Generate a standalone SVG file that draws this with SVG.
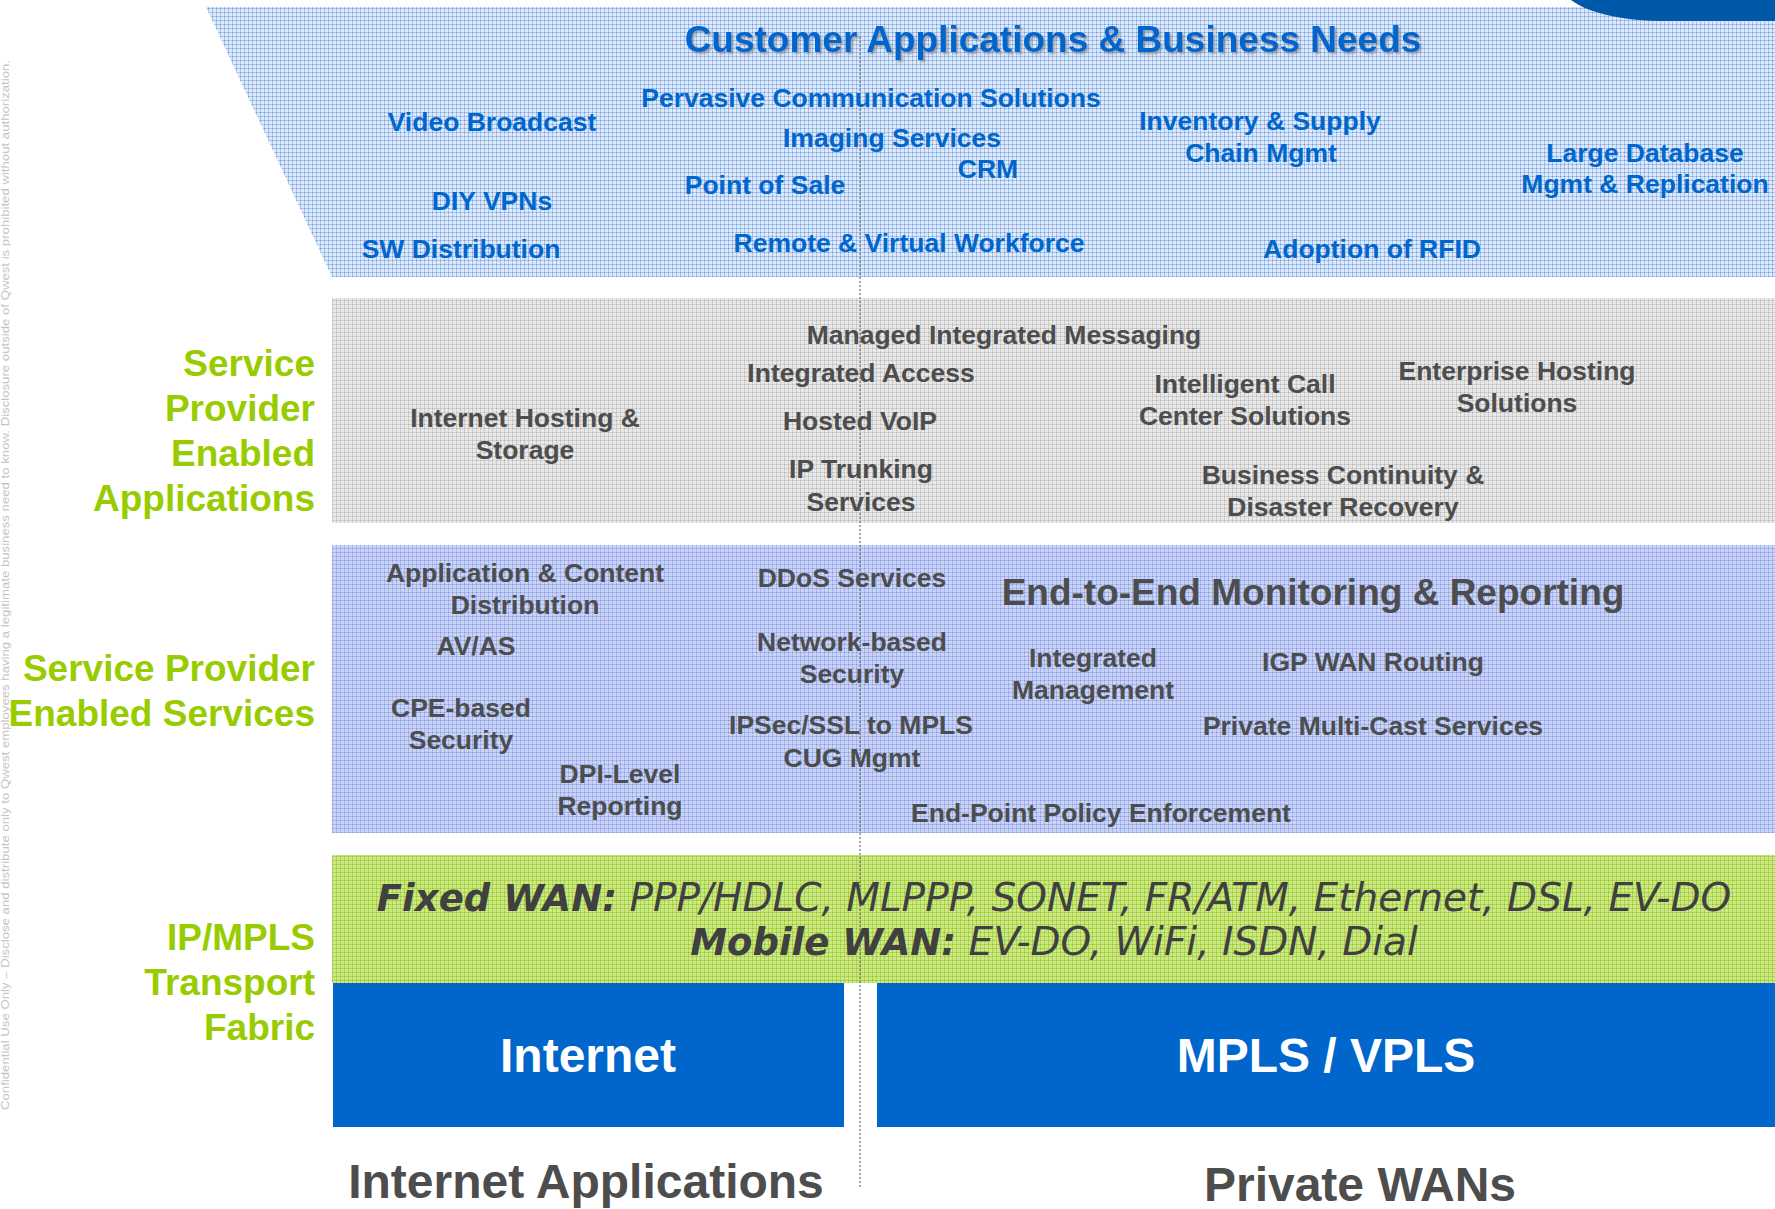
<svg xmlns="http://www.w3.org/2000/svg" width="1775" height="1209" viewBox="0 0 1775 1209">
<defs>
<pattern id="pTop" width="4" height="4" patternUnits="userSpaceOnUse">
<rect width="4" height="4" fill="#DDE9F8"/><rect width="4" height="1" fill="#A7C5EE"/><rect width="1" height="4" fill="#A7C5EE"/><rect width="1" height="1" fill="#6C9BDD"/>
</pattern>
<pattern id="pGray" width="4" height="4" patternUnits="userSpaceOnUse">
<rect width="4" height="4" fill="#E8E8E8"/><rect width="4" height="1" fill="#D0D0D0"/><rect width="1" height="4" fill="#D0D0D0"/><rect width="1" height="1" fill="#B5B5B5"/>
</pattern>
<pattern id="pSvc" width="4" height="4" patternUnits="userSpaceOnUse">
<rect width="4" height="4" fill="#C8D3F6"/><rect width="4" height="1" fill="#A9B9F0"/><rect width="1" height="4" fill="#A9B9F0"/><rect width="1" height="1" fill="#8297E4"/>
</pattern>
<pattern id="pGreen" width="4" height="4" patternUnits="userSpaceOnUse">
<rect width="4" height="4" fill="#CBE68C"/><rect width="4" height="1" fill="#AED84A"/><rect width="1" height="4" fill="#AED84A"/><rect width="1" height="1" fill="#92C81E"/>
</pattern>
<filter id="shadow" x="-5%" y="-30%" width="110%" height="160%">
<feDropShadow dx="2" dy="2" stdDeviation="1" flood-color="#777" flood-opacity="0.6"/>
</filter>
</defs>
<style>
text{font-family:"Liberation Sans",Arial,sans-serif;font-weight:bold;text-anchor:middle}
.b{fill:#0066CC;font-size:26.5px}
.g{fill:#4D4D4D;font-size:26.5px}
.lbl{fill:#99CC00;font-size:37px;text-anchor:end}
.wan{font-family:"DejaVu Sans",Verdana,sans-serif;font-style:italic;font-weight:normal;fill:#404040;font-size:39px}
.wan .k{font-weight:bold;font-size:37px}
.box{fill:#FFFFFF;font-size:48px}
.foot{fill:#4D4D4D;font-size:48px}
</style>
<rect width="1775" height="1209" fill="#FFFFFF"/>

<g id="note">
<text transform="translate(9,1110) rotate(-90)" style="font-weight:normal;text-anchor:start;fill:#C4C4C4;font-size:10.5px" textLength="1050" lengthAdjust="spacingAndGlyphs">Confidential Use Only – Disclose and distribute only to Qwest employees having a legitimate business need to know. Disclosure outside of Qwest is prohibited without authorization.</text>
</g>

<g id="customer-applications">
<polygon points="206,7 1775,7 1775,277 332,277" fill="url(#pTop)"/>
<path d="M1571,0 C1590,14 1625,21 1665,21 L1775,21 L1775,0 Z" fill="#0058A8"/>
</g>
<g id="sp-applications"><rect x="332" y="298" width="1443" height="225" fill="url(#pGray)"/></g>
<g id="sp-services"><rect x="332" y="545" width="1443" height="288" fill="url(#pSvc)"/></g>
<g id="transport"><rect x="332" y="855" width="1443" height="128" fill="url(#pGreen)"/></g>

<g id="divider">
<line x1="860" y1="37" x2="860" y2="1188" stroke="#555" stroke-width="1" stroke-dasharray="2 2"/>
</g>

<g id="customer-applications-text">
<text x="1053" y="52" style="font-size:37px;fill:#0066CC" filter="url(#shadow)">Customer Applications &amp; Business Needs</text>
<text class="b" x="492" y="131">Video Broadcast</text>
<text class="b" x="492" y="210">DIY VPNs</text>
<text class="b" x="461" y="258">SW Distribution</text>
<text class="b" x="871" y="107">Pervasive Communication Solutions</text>
<text class="b" x="892" y="147">Imaging Services</text>
<text class="b" x="988" y="178">CRM</text>
<text class="b" x="765" y="194">Point of Sale</text>
<text class="b" x="909" y="252">Remote &amp; Virtual Workforce</text>
<text class="b" x="1260" y="130">Inventory &amp; Supply</text>
<text class="b" x="1261" y="162">Chain Mgmt</text>
<text class="b" x="1645" y="162">Large Database</text>
<text class="b" x="1645" y="193">Mgmt &amp; Replication</text>
<text class="b" x="1372" y="258">Adoption of RFID</text>
</g>

<g id="sp-applications-text">
<text class="lbl" x="315" y="376">Service</text>
<text class="lbl" x="315" y="421">Provider</text>
<text class="lbl" x="315" y="466">Enabled</text>
<text class="lbl" x="315" y="511">Applications</text>
<text class="g" x="1004" y="344">Managed Integrated Messaging</text>
<text class="g" x="861" y="382">Integrated Access</text>
<text class="g" x="860" y="430">Hosted VoIP</text>
<text class="g" x="861" y="478">IP Trunking</text>
<text class="g" x="861" y="511">Services</text>
<text class="g" x="525" y="427">Internet Hosting &amp;</text>
<text class="g" x="525" y="459">Storage</text>
<text class="g" x="1245" y="393">Intelligent Call</text>
<text class="g" x="1245" y="425">Center Solutions</text>
<text class="g" x="1517" y="380">Enterprise Hosting</text>
<text class="g" x="1517" y="412">Solutions</text>
<text class="g" x="1343" y="484">Business Continuity &amp;</text>
<text class="g" x="1343" y="516">Disaster Recovery</text>
</g>

<g id="sp-services-text">
<text class="lbl" x="315" y="681">Service Provider</text>
<text class="lbl" x="315" y="726">Enabled Services</text>
<text class="g" x="525" y="582">Application &amp; Content</text>
<text class="g" x="525" y="614">Distribution</text>
<text class="g" x="852" y="587">DDoS Services</text>
<text class="g" x="1313" y="605" style="font-size:37px">End-to-End Monitoring &amp; Reporting</text>
<text class="g" x="476" y="655">AV/AS</text>
<text class="g" x="852" y="651">Network-based</text>
<text class="g" x="852" y="683">Security</text>
<text class="g" x="1093" y="667">Integrated</text>
<text class="g" x="1093" y="699">Management</text>
<text class="g" x="1373" y="671">IGP WAN Routing</text>
<text class="g" x="461" y="717">CPE-based</text>
<text class="g" x="461" y="749">Security</text>
<text class="g" x="851" y="734">IPSec/SSL to MPLS</text>
<text class="g" x="852" y="767">CUG Mgmt</text>
<text class="g" x="1373" y="735">Private Multi-Cast Services</text>
<text class="g" x="620" y="783">DPI-Level</text>
<text class="g" x="620" y="815">Reporting</text>
<text class="g" x="1101" y="822">End-Point Policy Enforcement</text>
</g>

<g id="transport-text">
<text class="lbl" x="315" y="950">IP/MPLS</text>
<text class="lbl" x="315" y="995">Transport</text>
<text class="lbl" x="315" y="1040">Fabric</text>
<text class="wan" x="1054" y="911"><tspan class="k">Fixed WAN:</tspan> PPP/HDLC, MLPPP, SONET, FR/ATM, Ethernet, DSL, EV-DO</text>
<text class="wan" x="1054" y="955"><tspan class="k">Mobile WAN:</tspan> EV-DO, WiFi, ISDN, Dial</text>
</g>

<g id="internet">
<rect x="333" y="983" width="511" height="144" fill="#0066CC"/>
<text class="box" x="588" y="1072">Internet</text>
</g>
<g id="mpls-vpls">
<rect x="877" y="983" width="898" height="144" fill="#0066CC"/>
<text class="box" x="1326" y="1072">MPLS / VPLS</text>
</g>

<g id="footer">
<text class="foot" x="586" y="1198">Internet Applications</text>
<text class="foot" x="1360" y="1201">Private WANs</text>
</g>
</svg>
